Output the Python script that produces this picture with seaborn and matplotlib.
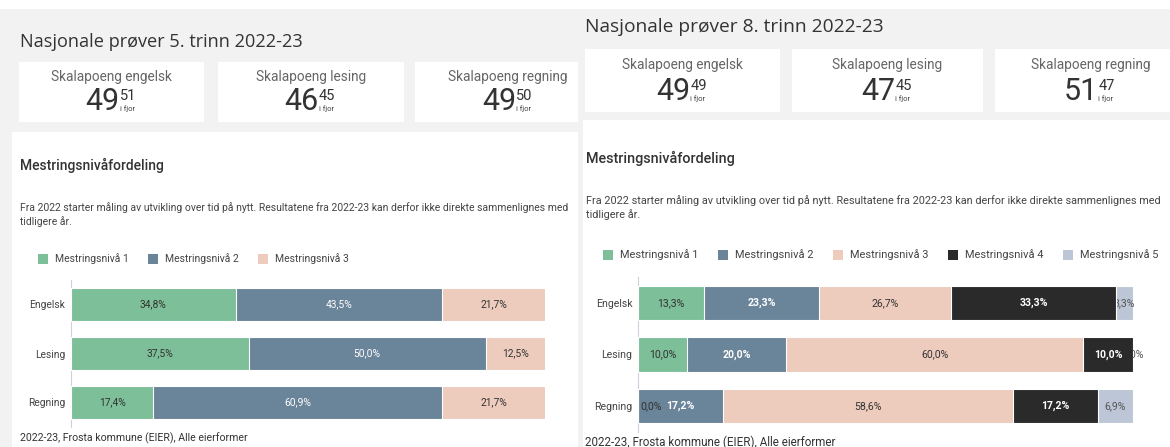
"""Nasjonale prøver 5. og 8. trinn 2022-23 — mestringsnivåfordeling (dashboard-kopi)
"""

import matplotlib
matplotlib.use("Agg")
import matplotlib.pyplot as plt
import pandas as pd
import seaborn as sns
from matplotlib.patches import Rectangle

W, H = 1170, 447

subjects = ["Engelsk", "Lesing", "Regning"]
level_names = ["Mestringsnivå 1", "Mestringsnivå 2", "Mestringsnivå 3",
               "Mestringsnivå 4", "Mestringsnivå 5"]
level_colors = ["#7cbf98", "#6a8499", "#edcbbd", "#2a2a2a", "#bcc6d6"]
label_colors = ["#333333", "white", "#333333", "white", "#555555"]

# andel elever (%) per nivå; rad = nivå, kolonne = fag
t5_shares = [[34.8, 37.5, 17.4],
             [43.5, 50.0, 60.9],
             [21.7, 12.5, 21.7]]
t8_shares = [[13.3, 10.0, 0.0],
             [23.3, 20.0, 17.2],
             [26.7, 60.0, 58.6],
             [33.3, 10.0, 17.2],
             [3.3, 0.0, 6.9]]

card_titles = ["Skalapoeng engelsk", "Skalapoeng lesing", "Skalapoeng regning"]
t5_scores = [49, 46, 49]
t5_last_year = [51, 45, 50]
t8_scores = [49, 47, 51]
t8_last_year = [49, 45, 47]

note = ("Fra 2022 starter måling av utvikling over tid på nytt. Resultatene fra 2022-23 "
        "kan derfor ikke direkte sammenlignes med\ntidligere år.")
footer = "2022-23, Frosta kommune (EIER), Alle eierformer"

sns.set_theme(style="white")
plt.rcParams["font.family"] = ["Roboto", "DejaVu Sans"]

fig = plt.figure(figsize=(W / 100, H / 100), dpi=100)
fig.patch.set_facecolor("white")


def fx(x):
    return x / W


def fy(y):
    return 1 - y / H


def box(x0, y0, x1, y1, color, z):
    fig.patches.append(Rectangle((fx(x0), fy(y1)), (x1 - x0) / W, (y1 - y0) / H,
                                 transform=fig.transFigure, facecolor=color,
                                 edgecolor="none", zorder=z))


def text(x, y, s, **kw):
    kw.setdefault("color", "#333333")
    kw.setdefault("va", "center")
    fig.text(fx(x), fy(y), s, **kw)


def score_cards(xs, y0, y1, label_y, num_y, scores, last_year, z):
    for (x0, x1), title, score, prev in zip(xs, card_titles, scores, last_year):
        box(x0, y0, x1, y1, "white", z)
        cx = (x0 + x1) / 2
        text(cx, label_y, title, ha="center", fontsize=9.8, color="#666666")
        text(cx + 8, num_y, str(score), ha="right", fontsize=22, color="#333333")
        text(cx + 8, num_y - 5, str(prev), ha="left", fontsize=10.5, color="#333333")
        text(cx + 8, num_y + 7.5, "i fjor", ha="left", fontsize=5.5, color="#444444")


def stacked(ax, shares, bar_h, fs, white_weight):
    n = len(shares)
    df = pd.DataFrame(shares, index=level_names[:n], columns=subjects).T
    cum = df.cumsum(axis=1)
    for k in reversed(range(n)):
        before = len(ax.patches)
        sns.barplot(x=cum.iloc[:, k].values, y=subjects, orient="h",
                    color=level_colors[k], saturation=1, width=bar_h,
                    edgecolor="white", linewidth=0.8, ax=ax)
        for p in ax.patches[before:]:
            p.set_zorder(20 - 2 * k)
    for k in range(n):
        for i in range(len(subjects)):
            v = df.iloc[i, k]
            end = cum.iloc[i, k]
            lab = f"{v:.1f}%".replace(".", ",")
            if v == 0 and end == 0:
                x, ha = 0.4, "left"
            else:
                x, ha = end - v / 2, "center"
            weight = white_weight if label_colors[k] == "white" else "normal"
            ax.text(x, i, lab, ha=ha, va="center", fontsize=fs, fontweight=weight,
                    color=label_colors[k], zorder=21 - 2 * k, clip_on=False)
    ax.set_xlim(0, 100)
    ax.set_ylim(2.5, -0.5)
    ax.set_facecolor("none")
    ax.set_xticks([])
    ax.set_xlabel("")
    ax.set_ylabel("")
    for side in ["top", "right", "bottom"]:
        ax.spines[side].set_visible(False)
    ax.spines["left"].set_color("#c9d2de")
    ax.spines["left"].set_linewidth(0.8)
    ax.tick_params(axis="y", length=0, pad=4, labelsize=fs, labelcolor="#444444")


def legend(n, x_start, step, y, fs):
    for k in range(n):
        x = x_start + k * step
        box(x, y - 5, x + 10, y + 5, level_colors[k], 2)
        text(x + 17, y, level_names[k], ha="left", fontsize=fs, color="#444444")


# --- bakgrunn
box(0, 9, 583, H, "#f2f2f2", -10)
box(12, 132, 578, H, "white", -9)

# --- 5. trinn
text(20, 42, "Nasjonale prøver 5. trinn 2022-23", ha="left", fontsize=13.1,
     family=["Open Sans", "DejaVu Sans"], color="#333333")
score_cards([(19, 204), (218, 404), (415, 601)], 62, 122, 76.5, 101,
            t5_scores, t5_last_year, -9)
text(20, 165, "Mestringsnivåfordeling", ha="left", fontsize=10, fontweight="medium")
text(20, 202, note, ha="left", va="top", fontsize=7.5, linespacing=1.4, color="#444444")
legend(3, 38, 110, 259, 7.5)
ax5 = fig.add_axes([fx(71), fy(427), (545 - 71) / W, (427 - 280) / H])
stacked(ax5, t5_shares, 0.69, 7.4, "normal")
text(20, 438, footer, ha="left", fontsize=7.6, color="#333333")

# --- 8. trinn (dekker høyre kant av 5. trinn)
box(578, 9, W, H, "#f2f2f2", -8)
box(583, 120, W, H, "white", -7)
text(585, 27, "Nasjonale prøver 8. trinn 2022-23", ha="left", fontsize=13.8,
     family=["Open Sans", "DejaVu Sans"], color="#333333")
score_cards([(585, 780), (792, 983), (995, 1186)], 49, 112, 65, 91,
            t8_scores, t8_last_year, -7)
text(586, 158, "Mestringsnivåfordeling", ha="left", fontsize=10.4, fontweight="medium")
text(586, 195, note, ha="left", va="top", fontsize=7.8, linespacing=1.4, color="#444444")
legend(5, 603, 115, 255, 7.9)
ax8 = fig.add_axes([fx(638), fy(432), (1133 - 638) / W, (432 - 277) / H])
stacked(ax8, t8_shares, 0.66, 7.6, "bold")
text(585, 442, footer, ha="left", fontsize=8.4, color="#333333")

fig.savefig("out.png", dpi=100, facecolor=fig.get_facecolor())
plt.close(fig)
